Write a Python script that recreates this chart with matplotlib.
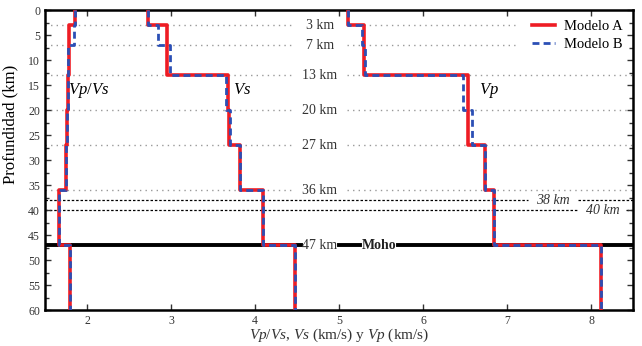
import numpy as np
import matplotlib
matplotlib.use("Agg")
import matplotlib.pyplot as plt
from matplotlib.ticker import MultipleLocator

plt.rcParams['font.family'] = ['Liberation Serif', 'DejaVu Serif']
plt.rcParams['mathtext.fontset'] = 'custom'
plt.rcParams['mathtext.it'] = 'Liberation Serif:italic'
plt.rcParams['mathtext.rm'] = 'Liberation Serif'

# Layer boundaries (km)
depth_bounds = [0, 3, 7, 13, 20, 27, 36, 47, 60]

# Model A
vpvs_A = [1.86, 1.79, 1.79, 1.77, 1.76, 1.75, 1.67, 1.80]
vs_A   = [2.73, 2.95, 2.95, 3.68, 3.69, 3.82, 4.09, 4.48]
vp_A   = [5.11, 5.30, 5.30, 6.53, 6.54, 6.74, 6.85, 8.12]

# Model B
vpvs_B = [1.86, 1.84, 1.77, 1.77, 1.76, 1.75, 1.67, 1.80]
vs_B   = [2.73, 2.85, 2.99, 3.65, 3.70, 3.82, 4.09, 4.48]
vp_B   = [5.11, 5.27, 5.31, 6.48, 6.58, 6.74, 6.85, 8.12]

interface_depths = [3, 7, 13, 20, 27, 36]
interface_labels = ["3 km", "7 km", "13 km", "20 km", "27 km", "36 km"]
dashed_depths = [38, 40]
dashed_labels = ["38 km", "40 km"]
moho_depth = 47

fig = plt.figure(figsize=(6.42, 3.46), dpi=100)
ax = fig.add_axes([0.070, 0.104, 0.916, 0.867])

def step_xy(vals):
    x = np.repeat(vals, 2)
    y = np.repeat(depth_bounds, 2)[1:-1]
    return x, y

label_x = 4.77
for d, lab in zip(interface_depths, interface_labels):
    xmax = 7.1 if d in (3, 7) else 8.5
    ax.plot([1.5, label_x - 0.33], [d, d], ls=(0, (1, 3)), color='#999999', lw=1.0, zorder=1)
    ax.plot([label_x + 0.33, xmax], [d, d], ls=(0, (1, 3)), color='#999999', lw=1.0, zorder=1)
    ax.text(label_x, d, lab, ha='center', va='center', fontsize=10, color='#333333', zorder=2)

# 38 / 40 km dashed lines
ax.plot([1.5, 7.25], [dashed_depths[0]] * 2, ls=(0, (2, 1.5)), color='black', lw=0.9, zorder=1)
ax.plot([7.85, 8.5], [dashed_depths[0]] * 2, ls=(0, (2, 1.5)), color='black', lw=0.9, zorder=1)
ax.text(7.55, dashed_depths[0], dashed_labels[0], ha='center', va='center', fontsize=10, style='italic', color='#333333')
ax.plot([1.5, 7.85], [dashed_depths[1]] * 2, ls=(0, (2, 1.5)), color='black', lw=0.9, zorder=1)
ax.plot([8.42, 8.5], [dashed_depths[1]] * 2, ls=(0, (2, 1.5)), color='black', lw=0.9, zorder=1)
ax.text(8.14, dashed_depths[1], dashed_labels[1], ha='center', va='center', fontsize=10, style='italic', color='#333333')

# Moho
ax.plot([1.5, 4.55], [moho_depth, moho_depth], color='black', lw=2.8, zorder=2)
ax.plot([5.0, 5.25], [moho_depth, moho_depth], color='black', lw=2.8, zorder=2)
ax.plot([5.7, 8.5], [moho_depth, moho_depth], color='black', lw=2.8, zorder=2)
ax.text(4.77, moho_depth, "47 km", ha='center', va='center', fontsize=10, color='#333333')
ax.text(5.48, moho_depth, "Moho", ha='center', va='center', fontsize=10, fontweight='bold', color='#222222')

for va, vb in [(vpvs_A, vpvs_B), (vs_A, vs_B), (vp_A, vp_B)]:
    xa, ya = step_xy(va)
    xb, yb = step_xy(vb)
    la, = ax.plot(xa, ya, color='#ee1c24', lw=2.6, zorder=3)
    lb, = ax.plot(xb, yb, color='#2b4fb5', lw=2.0, ls=(0, (2.5, 1.5)), zorder=4)
la.set_label("Modelo A")
lb.set_label("Modelo B")

ax.text(1.77, 16, r"$Vp/Vs$", fontsize=12, ha='left', va='center')
ax.text(3.74, 16, r"$Vs$", fontsize=12, ha='left', va='center')
ax.text(6.67, 16, r"$Vp$", fontsize=12, ha='left', va='center')

ax.legend(loc='upper right', frameon=False, fontsize=10.5, handlelength=1.6,
          handletextpad=0.6, borderaxespad=0.3, labelspacing=0.3)

ax.set_xlim(1.5, 8.5)
ax.set_ylim(60, 0)
ax.xaxis.set_major_locator(MultipleLocator(1))
ax.yaxis.set_major_locator(MultipleLocator(5))
ax.yaxis.set_minor_locator(MultipleLocator(2.5))
ax.tick_params(axis='both', which='both', direction='in', top=True, right=True,
               labelsize=8.5, width=1.0, colors='#333333')
ax.tick_params(which='major', length=4)
ax.tick_params(which='minor', length=3)
for s in ax.spines.values():
    s.set_linewidth(1.8)
ax.set_ylabel("Profundidad (km)", fontsize=12, labelpad=2)
ax.yaxis.set_label_coords(-0.045, 0.62)
ax.set_xlabel(r"$Vp/Vs$, $Vs$ (km/s) y $Vp$ (km/s)", fontsize=11, labelpad=0, color='#333333')

fig.savefig("out.png", dpi=100)
